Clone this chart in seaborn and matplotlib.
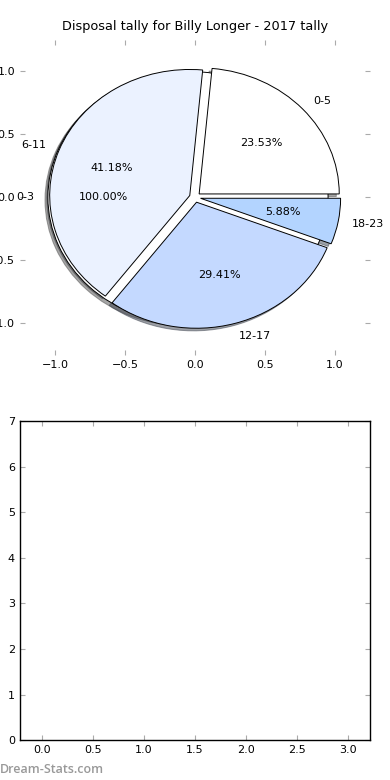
#import lib
import matplotlib
matplotlib.use('Agg')
import matplotlib.pyplot as plt
import seaborn as sns

# data
title = 'Disposal tally for Billy Longer - 2017 tally'
age_groups = ['0-5', '6-11', '12-17', '18-23']
disposals = [4, 7, 5, 1]
slice_colors = ['#ffffff', '#ebf2ff', '#c4d9ff', '#b3d4ff']
first_group = ['0-3']
first_tally = [1]
pie_ticks = [-1.0, -0.5, 0.0, 0.5, 1.0]
bar_xticks = [0.0, 0.5, 1.0, 1.5, 2.0, 2.5, 3.0]
bar_yticks = [0, 1, 2, 3, 4, 5, 6, 7]

sns.set_style('white', rc={
    'xtick.direction': 'in', 'ytick.direction': 'in',
    'xtick.top': True, 'ytick.right': True,
    'xtick.bottom': True, 'ytick.left': True,
    'axes.edgecolor': 'black',
})
plt.rcParams['font.family'] = ['DejaVu Sans']
plt.rcParams['font.size'] = 8
plt.rcParams['text.color'] = 'black'
plt.rcParams['axes.titlecolor'] = 'black'
plt.rcParams['xtick.major.size'] = 3.5
plt.rcParams['ytick.major.size'] = 3.5

fig = plt.figure(figsize=(3.9, 7.8), dpi=100)
ax1 = fig.add_axes([0.051, 0.545, 0.898, 0.404])
ax2 = fig.add_axes([0.051, 0.051, 0.898, 0.409])

# pie with first age group (hidden underneath)
wedge_kw = {'edgecolor': 'black', 'linewidth': 0.7}
shadow_kw = {'ox': -0.015, 'oy': -0.015}
ax1.pie(first_tally, labels=first_group, colors=['#ffffff'], explode=[0.05],
        autopct='%1.2f%%', shadow=shadow_kw, wedgeprops=wedge_kw,
        textprops={'fontsize': 8, 'color': 'black'})
ax1.pie(disposals, labels=age_groups, colors=slice_colors,
        explode=[0.04] * len(disposals), autopct='%1.2f%%', shadow=shadow_kw,
        wedgeprops=wedge_kw, textprops={'fontsize': 8, 'color': 'black'})
ax1.set_aspect('auto')
ax1.set_xlim(-1.25, 1.25)
ax1.set_ylim(-1.25, 1.25)
ax1.set_xticks(pie_ticks)
ax1.set_yticks(pie_ticks)
ax1.set_frame_on(False)
ax1.set_title(title, fontsize=9.3, color='black', pad=7)

for ax in (ax1, ax2):
    ax.tick_params(labelsize=8, top=True, right=True, direction='in',
                   color='#aaaaaa', labelcolor='black')

# empty tally plot
ax2.set_xlim(-0.215, 3.215)
ax2.set_ylim(0, 7)
ax2.set_xticks(bar_xticks)
ax2.set_yticks(bar_yticks)
for s in ax2.spines.values():
    s.set_linewidth(1.0)
    s.set_color('black')

fig.text(0.0, 0.013, 'Dream-Stats.com', color='#999999', fontsize=9,
         family=['Open Sans', 'DejaVu Sans'], weight='semibold', va='center')

fig.savefig('out.png', dpi=100)
